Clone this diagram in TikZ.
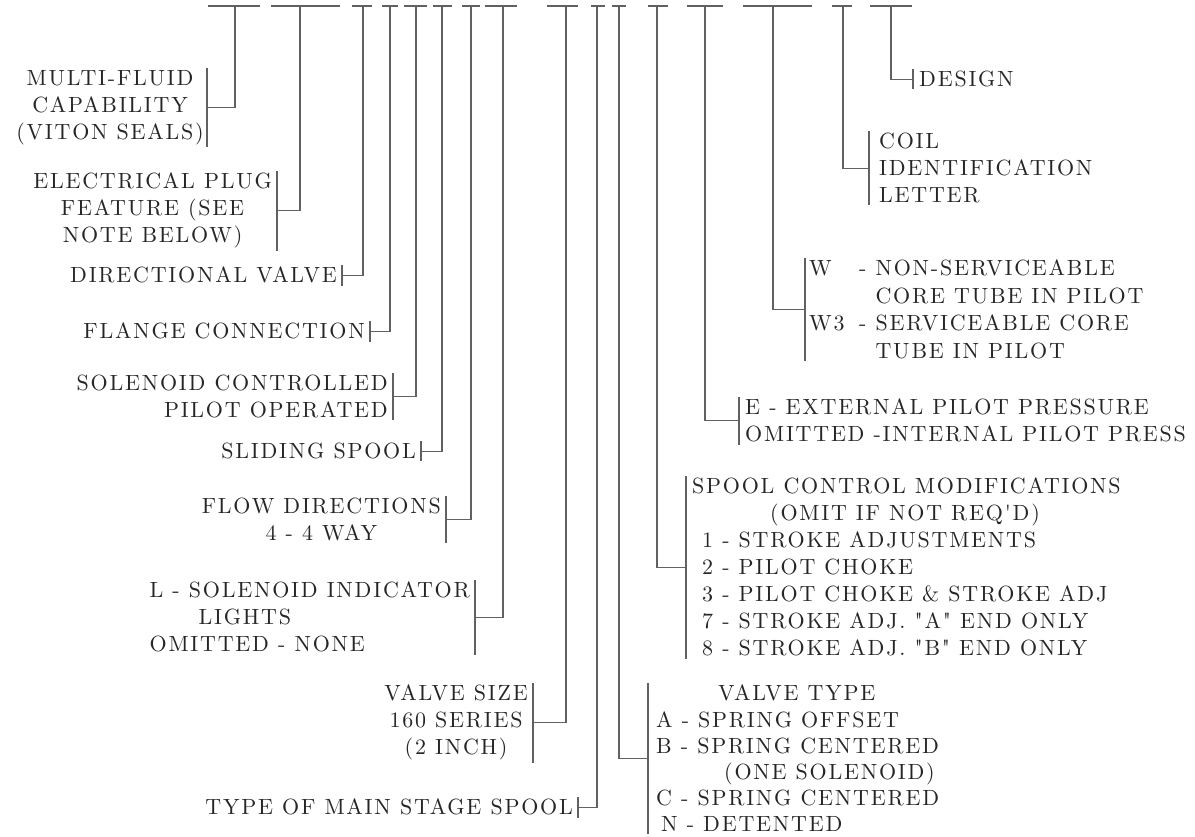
\documentclass[tikz,border=0pt]{standalone}
\usepackage{fontspec}
\newfontfamily\chartfont[LetterSpace=8]{lmroman10-regular.otf}
\begin{document}
\begin{tikzpicture}[
    x=1pt, y=-1pt,
    line/.style={draw=black!62, line width=1.2pt},
    every node/.style={text=black!85, inner ysep=2pt, font=\chartfont\fontsize{22}{27}\selectfont},
    lblR/.style={anchor=north east, inner xsep=5pt},
    lblL/.style={anchor=north west, inner xsep=6pt}
]
\useasboundingbox (0,0) rectangle (1195,837);
\foreach \a/\b/\c [count=\i] in {208/260/235, 271/340/300, 352/372/363, 382/398/390,
    404/427/416, 433/452/442, 462/480/471, 485/517/503, 547/578/566, 591/605/597,
    612/626/619, 648/668/657, 687/723/705, 743/812/773, 832/852/843, 870/912/891} {
    \draw[line] (\a,6) -- (\b,6);
    \coordinate (t\i) at (\c,6);
}
\node[lblR, align=center, inner xsep=3pt] (fluid) at (207,68) {MULTI-FLUID\\CAPABILITY\\(VITON SEALS)};
\node[lblR, align=center] (plug) at (277,171) {ELECTRICAL PLUG\\FEATURE (SEE\\NOTE BELOW)};
\node[lblR] (dirv) at (342,265) {DIRECTIONAL VALVE};
\node[lblR] (flange) at (370,321) {FLANGE CONNECTION};
\node[lblR, align=right] (pilot) at (393,373) {SOLENOID CONTROLLED\\PILOT OPERATED};
\node[lblR] (slide) at (421,441) {SLIDING SPOOL};
\node[lblR, align=center] (flow) at (446,496) {FLOW DIRECTIONS\\4 - 4 WAY};
\node[lblR, align=left] (lights) at (475,580) {L - SOLENOID INDICATOR\\\hspace*{49pt}LIGHTS\\OMITTED - NONE};
\node[lblR, align=center] (size) at (533,683) {VALVE SIZE\\160 SERIES\\(2 INCH)};
\node[lblR] (mainsp) at (578,797) {TYPE OF MAIN STAGE SPOOL};
\node[lblL, align=left, inner xsep=8pt, font=\chartfont\fontsize{22}{26.2}\selectfont] (vtype) at (648,683) {\hspace*{62pt}VALVE TYPE\\A - SPRING OFFSET\\B - SPRING CENTERED\\\hspace*{68pt}(ONE SOLENOID)\\C - SPRING CENTERED\\\hspace*{5pt}N - DETENTED};
\node[lblL, align=left] (spool) at (686,476) {SPOOL CONTROL MODIFICATIONS\\\hspace*{78pt}(OMIT IF NOT REQ'D)\\\hspace*{10pt}1 - STROKE ADJUSTMENTS\\\hspace*{10pt}2 - PILOT CHOKE\\\hspace*{10pt}3 - PILOT CHOKE \& STROKE ADJ\\\hspace*{10pt}7 - STROKE ADJ. "A" END ONLY\\\hspace*{10pt}8 - STROKE ADJ. "B" END ONLY};
\node[lblL, align=left] (extp) at (739,397) {E - EXTERNAL PILOT PRESSURE\\OMITTED -INTERNAL PILOT PRESS};
\node[lblL, align=left, inner xsep=4pt, font=\chartfont\fontsize{22}{27.4}\selectfont] (core) at (805,258) {\makebox[50pt][l]{W}- NON-SERVICEABLE\\\phantom{\makebox[50pt][l]{W}- }CORE TUBE IN PILOT\\\makebox[50pt][l]{W3}- SERVICEABLE CORE\\\phantom{\makebox[50pt][l]{W}- }TUBE IN PILOT};
\node[lblL, align=left, inner xsep=10pt] (coil) at (869,131) {COIL\\IDENTIFICATION\\LETTER};
\node[lblL] (design) at (913,69) {DESIGN};
\foreach \n/\t in {fluid/t1, plug/t2, dirv/t3, flange/t4, pilot/t5, slide/t6,
    flow/t7, lights/t8, size/t9, mainsp/t10} {
    \draw[line] (\n.north east) -- (\n.south east) (\n.east) -| (\t);
}
\foreach \n/\t in {vtype/t11, spool/t12, extp/t13, core/t14, coil/t15, design/t16} {
    \draw[line] (\n.north west) -- (\n.south west) (\n.west) -| (\t);
}
\end{tikzpicture}
\end{document}
